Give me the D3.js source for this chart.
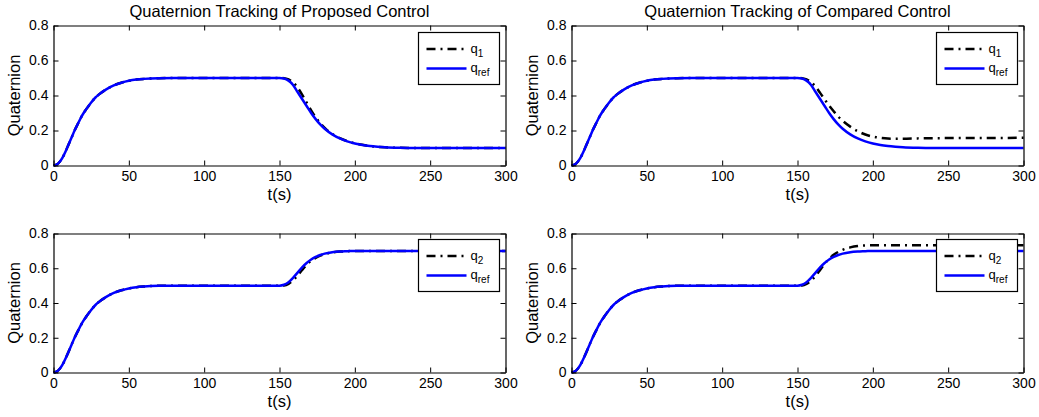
<!DOCTYPE html>
<meta charset="utf-8">
<script src="https://d3js.org/d3.v7.min.js"></script>
<style>
  body { margin: 0; background: #fff; }
  text { font-family: "Liberation Sans", Arial, Helvetica, sans-serif; fill: #000; }
</style>
<div id="chart"></div>
<script>

// time samples (s), shared by every series
var tSamples = [0, 2, 4, 6, 8, 10, 12, 14, 16, 18, 20, 22, 25, 28, 30, 35, 40, 45, 50, 55, 60, 70, 80, 150,
                153, 156, 159, 162, 165, 168, 171, 174, 177, 180, 185, 190, 195, 200, 205, 210, 215, 220, 230, 240, 260, 300];

// common rise 0 -> 0.5 (t = 0 .. 150)
var rise = [0, 0.005, 0.02, 0.045, 0.08, 0.12, 0.16, 0.2, 0.235, 0.27, 0.3, 0.325, 0.36, 0.39, 0.405, 0.435, 0.458, 0.473, 0.484, 0.491, 0.495, 0.499, 0.5, 0.5];

// second phase (t = 153 .. 300)
var qRef1Tail   = [0.497, 0.485, 0.46, 0.42, 0.38, 0.34, 0.3, 0.265, 0.235, 0.21, 0.178, 0.155, 0.138, 0.126, 0.117, 0.111, 0.107, 0.104, 0.101, 0.1, 0.1, 0.1];
var q1PropTail  = [0.499, 0.492, 0.475, 0.445, 0.405, 0.36, 0.315, 0.275, 0.242, 0.215, 0.18, 0.156, 0.139, 0.127, 0.118, 0.111, 0.107, 0.104, 0.101, 0.1, 0.1, 0.1];
var q1CompTail  = [0.499, 0.492, 0.477, 0.45, 0.415, 0.378, 0.342, 0.31, 0.28, 0.255, 0.222, 0.196, 0.177, 0.165, 0.158, 0.154, 0.153, 0.153, 0.155, 0.156, 0.157, 0.158];
var qRef2Tail   = [0.505, 0.52, 0.545, 0.575, 0.605, 0.63, 0.65, 0.665, 0.676, 0.684, 0.692, 0.696, 0.698, 0.7, 0.7, 0.7, 0.7, 0.7, 0.7, 0.7, 0.7, 0.7];
var q2PropTail  = [0.501, 0.51, 0.53, 0.558, 0.59, 0.62, 0.643, 0.66, 0.673, 0.682, 0.691, 0.696, 0.698, 0.7, 0.7, 0.7, 0.7, 0.7, 0.7, 0.7, 0.7, 0.7];
var q2CompTail  = [0.501, 0.51, 0.528, 0.556, 0.59, 0.625, 0.655, 0.677, 0.694, 0.706, 0.72, 0.728, 0.731, 0.732, 0.733, 0.733, 0.732, 0.732, 0.732, 0.732, 0.732, 0.732];

var xTicks = [0, 50, 100, 150, 200, 250, 300];
var yTicks = [0, 0.2, 0.4, 0.6, 0.8];

var titles = ["Quaternion Tracking of Proposed Control", "Quaternion Tracking of Compared Control"];

var W = 1039, H = 417;

var svg = d3.select("#chart")
  .append("svg")
    .attr("width", W)
    .attr("height", H);

// panel boxes in page pixels
var cols = [{x0: 53.5, x1: 505.5}, {x0: 571.5, x1: 1023.5}];
var rows = [{y0: 25.5, y1: 165.5}, {y0: 233.5, y1: 372.5}];

var panels = [
  {col: 0, row: 0, actual: rise.concat(q1PropTail), ref: rise.concat(qRef1Tail), sub: "1", title: titles[0]},
  {col: 1, row: 0, actual: rise.concat(q1CompTail), ref: rise.concat(qRef1Tail), sub: "1", title: titles[1]},
  {col: 0, row: 1, actual: rise.concat(q2PropTail), ref: rise.concat(qRef2Tail), sub: "2", title: null},
  {col: 1, row: 1, actual: rise.concat(q2CompTail), ref: rise.concat(qRef2Tail), sub: "2", title: null}
];

panels.forEach(function(p) {
  var c = cols[p.col], r = rows[p.row];

  var x = d3.scaleLinear().domain([0, 300]).range([c.x0, c.x1]);
  var y = d3.scaleLinear().domain([0, 0.8]).range([r.y1, r.y0]);

  var g = svg.append("g");

  // white background
  g.append("rect")
    .attr("x", c.x0).attr("y", r.y0)
    .attr("width", c.x1 - c.x0).attr("height", r.y1 - r.y0)
    .attr("fill", "#fff");

  var line = d3.line()
    .x(function(d) { return x(d[0]); })
    .y(function(d) { return y(d[1]); })
    .curve(d3.curveMonotoneX);

  var actualPts = tSamples.map(function(t, i) { return [t, p.actual[i]]; });
  var refPts = tSamples.map(function(t, i) { return [t, p.ref[i]]; });

  g.append("path")
    .datum(actualPts)
    .attr("d", line)
    .attr("fill", "none")
    .attr("stroke", "#000")
    .attr("stroke-width", 2.5)
    .attr("stroke-dasharray", "9,5,2,5");

  g.append("path")
    .datum(refPts)
    .attr("d", line)
    .attr("fill", "none")
    .attr("stroke", "#0000ff")
    .attr("stroke-width", 2.5);

  // axes, matlab style ticks pointing inwards
  var fmtY = function(d) { return d === 0 ? "0" : d3.format(".1f")(d); };

  var xAx = g.append("g")
    .attr("transform", "translate(0," + r.y1 + ")")
    .call(d3.axisBottom(x).tickValues(xTicks).tickSizeInner(-5).tickSizeOuter(0).tickPadding(6));
  var xTop = g.append("g")
    .attr("transform", "translate(0," + r.y0 + ")")
    .call(d3.axisTop(x).tickValues(xTicks).tickSizeInner(-5).tickSizeOuter(0).tickFormat(""));
  var yAx = g.append("g")
    .attr("transform", "translate(" + c.x0 + ",0)")
    .call(d3.axisLeft(y).tickValues(yTicks).tickFormat(fmtY).tickSizeInner(-5).tickSizeOuter(0).tickPadding(5));
  var yRight = g.append("g")
    .attr("transform", "translate(" + c.x1 + ",0)")
    .call(d3.axisRight(y).tickValues(yTicks).tickSizeInner(-5).tickSizeOuter(0).tickFormat(""));

  [xAx, xTop, yAx, yRight].forEach(function(a) {
    a.selectAll("path").attr("stroke", "#000").attr("stroke-width", 1.2);
    a.selectAll("line").attr("stroke", "#000");
    a.selectAll("text")
      .style("font-family", '"Liberation Sans", Arial, sans-serif')
      .attr("font-size", "14px")
      .attr("fill", "#000");
  });

  // labels
  g.append("text")
    .attr("x", (c.x0 + c.x1) / 2)
    .attr("y", r.y1 + 34)
    .attr("text-anchor", "middle")
    .attr("font-size", "16.5px")
    .text("t(s)");

  g.append("text")
    .attr("transform", "translate(" + (c.x0 - 34) + "," + ((r.y0 + r.y1) / 2) + ") rotate(-90)")
    .attr("text-anchor", "middle")
    .attr("font-size", "16.5px")
    .text("Quaternion");

  if (p.title) {
    g.append("text")
      .attr("x", (c.x0 + c.x1) / 2)
      .attr("y", r.y0 - 9)
      .attr("text-anchor", "middle")
      .attr("font-size", "16.5px")
      .text(p.title);
  }

  // legend
  var lx = c.x1 - 87, ly = r.y0 + (p.row === 0 ? 7 : 6);
  var lg = g.append("g").attr("transform", "translate(" + lx + "," + ly + ")");
  lg.append("rect")
    .attr("width", 81).attr("height", 52)
    .attr("fill", "#fff")
    .attr("stroke", "#000")
    .attr("stroke-width", 1.2);

  var entries = [
    {sub: p.sub, dash: "9,5,2,5", color: "#000", yy: 16.5},
    {sub: "ref", dash: null, color: "#0000ff", yy: 36}
  ];
  entries.forEach(function(e) {
    lg.append("line")
      .attr("x1", 8).attr("x2", 48)
      .attr("y1", e.yy).attr("y2", e.yy)
      .attr("stroke", e.color)
      .attr("stroke-width", 2.5)
      .attr("stroke-dasharray", e.dash);
    var t = lg.append("text")
      .attr("x", 52)
      .attr("y", e.yy + 3.5)
      .attr("font-size", "13px");
    t.append("tspan").text("q");
    t.append("tspan")
      .attr("dy", 4)
      .attr("font-size", "10px")
      .text(e.sub);
  });
});

</script>
